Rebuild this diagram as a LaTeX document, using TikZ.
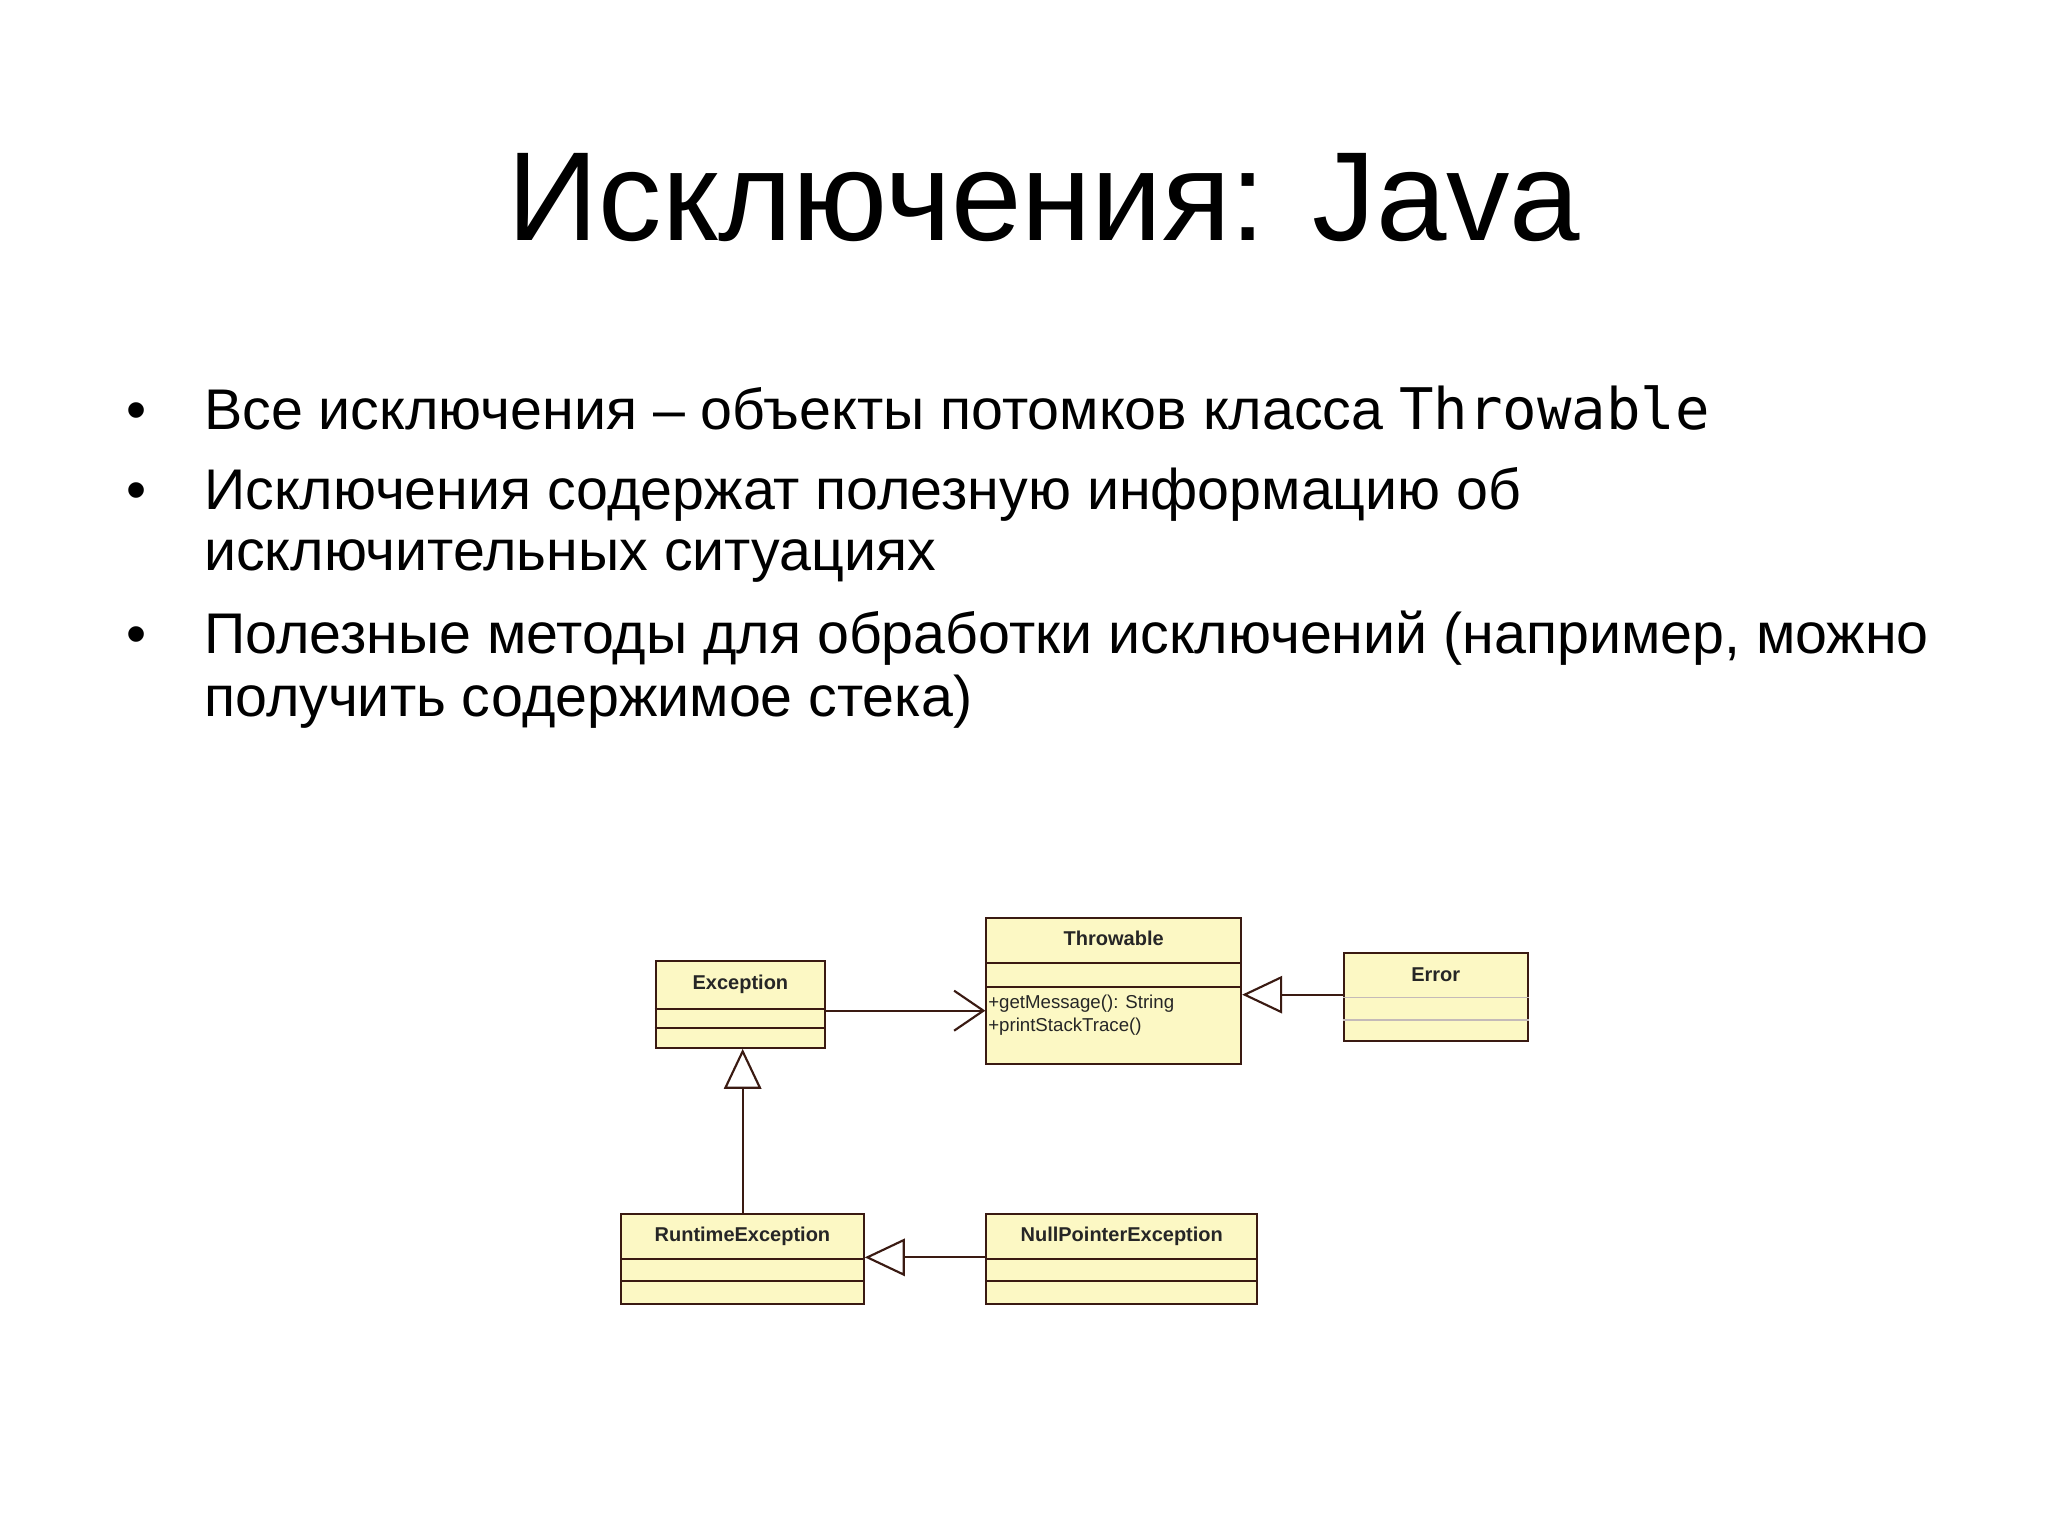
\documentclass[tikz,border=0pt]{standalone}
\usepackage{fontspec}
\setmainfont{Liberation Sans}
\newfontfamily\monof{DejaVu Sans Mono}
\usetikzlibrary{arrows.meta}
\definecolor{umlfill}{HTML}{FCF8C4}
\definecolor{umlline}{HTML}{3A1A12}
\tikzset{
  cls/.style={draw=umlline, fill=umlfill, line width=1.6pt, anchor=north west, inner sep=0pt},
  sep/.style={draw=umlline, line width=1.6pt},
  cname/.style={font=\fontsize{15}{17}\selectfont\bfseries, text=black!85, anchor=north},
  meth/.style={font=\fontsize{14}{17}\selectfont, text=black!85, anchor=north west, align=left, inner sep=2pt},
  gen/.style={draw=umlline, line width=1.6pt, -{Triangle[open,length=30pt,width=28pt]}},
  dep/.style={draw=umlline, line width=1.6pt, -{Straight Barb[length=22pt,width=30pt]}},
  bul/.style={font=\fontsize{43}{49}\selectfont, anchor=base west, inner sep=0pt},
}
\begin{document}
\begin{tikzpicture}[x=1pt,y=-1pt]
\useasboundingbox[fill=white] (0,0) rectangle (1536,1152);
\node[font=\fontsize{95}{110}\selectfont, anchor=base, inner sep=0pt] (title) at (783,180) {Исключения: Java};

\node[bul] (b1d) at (95,322) {•};
\node[bul] (b1) at (153,322) {Все исключения – объекты потомков класса {\monof Throwable}};
\node[bul] (b2d) at (95,382) {•};
\node[bul] (b2) at (153,382) {Исключения содержат полезную информацию об};
\node[bul] (b2b) at (153,428) {исключительных ситуациях};
\node[bul] (b3d) at (95,490) {•};
\node[bul] (b3) at (153,490) {Полезные методы для обработки исключений (например, можно};
\node[bul] (b3b) at (153,537) {получить содержимое стека)};

% classes
\node[cls, minimum width=127pt, minimum height=65pt] (exc) at (491,720) {};
\node[cname] (excn) at ([yshift=-8pt]exc.north) {Exception};
\draw[sep] ([yshift=-37pt]exc.north west) -- ([yshift=-37pt]exc.north east);
\draw[sep] ([yshift=-51pt]exc.north west) -- ([yshift=-51pt]exc.north east);

\node[cls, minimum width=191pt, minimum height=109pt] (thr) at (739,688) {};
\node[cname] (thrn) at ([yshift=-7pt]thr.north) {Throwable};
\draw[sep] ([yshift=-34pt]thr.north west) -- ([yshift=-34pt]thr.north east);
\draw[sep] ([yshift=-52pt]thr.north west) -- ([yshift=-52pt]thr.north east);
\node[meth] (thrm) at ([yshift=-56pt]thr.north west) {+getMessage(): String\\+printStackTrace()};

\node[cls, minimum width=138pt, minimum height=66pt] (err) at (1007,714) {};
\node[cname] (errn) at ([yshift=-8pt]err.north) {Error};
\draw[umlline!30, line width=1pt] ([yshift=-34pt]err.north west) -- ([yshift=-34pt]err.north east);
\draw[umlline!30, line width=1pt] ([yshift=-51pt]err.north west) -- ([yshift=-51pt]err.north east);

\node[cls, minimum width=182pt, minimum height=67pt] (rt) at (465,910) {};
\node[cname] (rtn) at ([yshift=-7pt]rt.north) {RuntimeException};
\draw[sep] ([yshift=-34pt]rt.north west) -- ([yshift=-34pt]rt.north east);
\draw[sep] ([yshift=-51pt]rt.north west) -- ([yshift=-51pt]rt.north east);

\node[cls, minimum width=203pt, minimum height=67pt] (npe) at (739,910) {};
\node[cname] (npen) at ([yshift=-7pt]npe.north) {NullPointerException};
\draw[sep] ([yshift=-34pt]npe.north west) -- ([yshift=-34pt]npe.north east);
\draw[sep] ([yshift=-51pt]npe.north west) -- ([yshift=-51pt]npe.north east);

% connectors
\draw[dep] ([yshift=-38pt]exc.north east) -- ([yshift=-70pt]thr.north west);
\draw[gen] ([yshift=-32pt]err.north west) -- ([yshift=-58pt]thr.north east);
\draw[gen] (rt.north -| 557,0) -- (exc.south -| 557,0);
\draw[gen] ([yshift=-33pt]npe.north west) -- ([yshift=-33pt]rt.north east);
\end{tikzpicture}
\end{document}
